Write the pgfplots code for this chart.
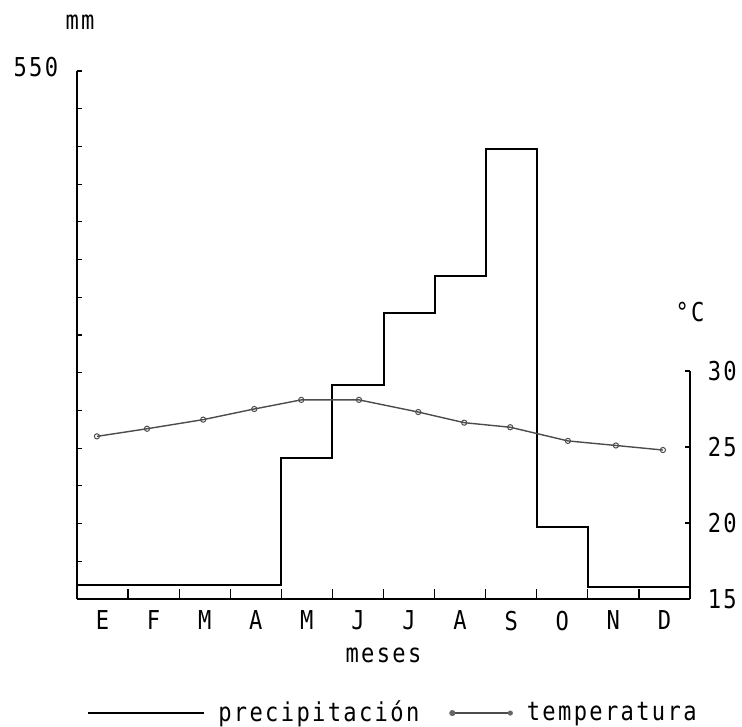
\documentclass[border=0pt]{standalone}
\usepackage{fontspec}
\setmainfont{DejaVu Sans Mono}[FakeStretch=0.85,LetterSpace=9]
\usepackage{pgfplots}
\pgfplotsset{compat=1.18}

\begin{document}
\fontsize{26bp}{31bp}\selectfont
\begin{tikzpicture}
\path[use as bounding box] (-77bp,-128bp) rectangle (665bp,599bp);
% precipitation (mm), left axis
\begin{axis}[
    scale only axis, width=613bp, height=528bp,
    at={(0,0)}, anchor=south west,
    xmin=0, xmax=12, ymin=0, ymax=550,
    enlargelimits=false,
    axis x line*=bottom, axis y line*=left,
    axis line style={-, line width=1.8bp},
    tick align=inside,
    xtick={0.5,1.5,...,11.5},
    xticklabels={E,F,M,A,M,J,J,A,S,O,N,D},
    major x tick style={draw=none},
    minor xtick={1,2,...,11},
    minor tick length=10bp, major tick length=5bp,
    tick style={line width=1.2bp, black},
    ytick={39.29,78.57,117.86,157.14,196.43,235.71,275,314.29,353.57,392.86,432.14,471.43,510.71,550},
    yticklabels={,,,,,,,,,,,,,550},
    xticklabel style={yshift=-3bp},
    yticklabel style={xshift=-10bp, yshift=4bp},
    /pgf/number format/assume math mode=true,
    xlabel={meses},
    xlabel style={at={(axis description cs:0.5,0)}, anchor=center, yshift=-56bp},
    ylabel={mm},
    ylabel style={rotate=-90, at={(axis description cs:0,1)}, anchor=center, xshift=3bp, yshift=49bp},
    legend columns=2,
    legend cell align=left,
    legend style={at={(axis description cs:0.016,-0.216)}, anchor=west,
        draw=none, fill=none, inner xsep=0pt,
        /tikz/every odd column/.append style={column sep=12bp},
        /tikz/every even column/.append style={column sep=28bp}},
]
\addplot[black, line width=2bp, const plot,
    legend image code/.code={\draw[black, line width=1.3bp] (0bp,0bp) -- (116bp,0bp);}]
    coordinates {
    (0,15) (1,15) (2,15) (3,15) (4,147) (5,223) (6,298)
    (7,336) (8,469) (9,75) (10,13) (11,13) (12,13)
};
\addlegendentry{precipitación}
\addlegendimage{legend image code/.code={
    \draw[black!70, line width=1.4bp] (0bp,0bp) -- (58bp,0bp);
    \fill[black!60] (0bp,0bp) circle (2.8bp) (58bp,0bp) circle (2.3bp);}}
\addlegendentry{temperatura}
\end{axis}
% temperature (°C), right axis
\begin{axis}[
    scale only axis, width=613bp, height=228bp,
    at={(0,0)}, anchor=south west,
    xmin=0, xmax=12, ymin=15, ymax=30,
    enlargelimits=false, clip=false,
    axis x line=none, axis y line*=right,
    axis line style={-, line width=1.8bp},
    tick align=inside, major tick length=5bp,
    tick style={line width=1.2bp, black},
    ytick={15,20,25,30},
    yticklabel style={xshift=9bp},
    /pgf/number format/assume math mode=true,
]
\addplot[black!70, line width=1.4bp, mark=o, mark size=2.6bp,
    mark options={fill=black!30, line width=1bp}]
    coordinates {
    (0.39,25.7) (1.37,26.2) (2.47,26.8) (3.47,27.5) (4.39,28.1) (5.52,28.1)
    (6.68,27.3) (7.58,26.6) (8.48,26.3) (9.61,25.4) (10.55,25.1) (11.47,24.8)
};
\node at (rel axis cs:1,1) [yshift=59bp] {°C};
\end{axis}
\end{tikzpicture}
\end{document}
